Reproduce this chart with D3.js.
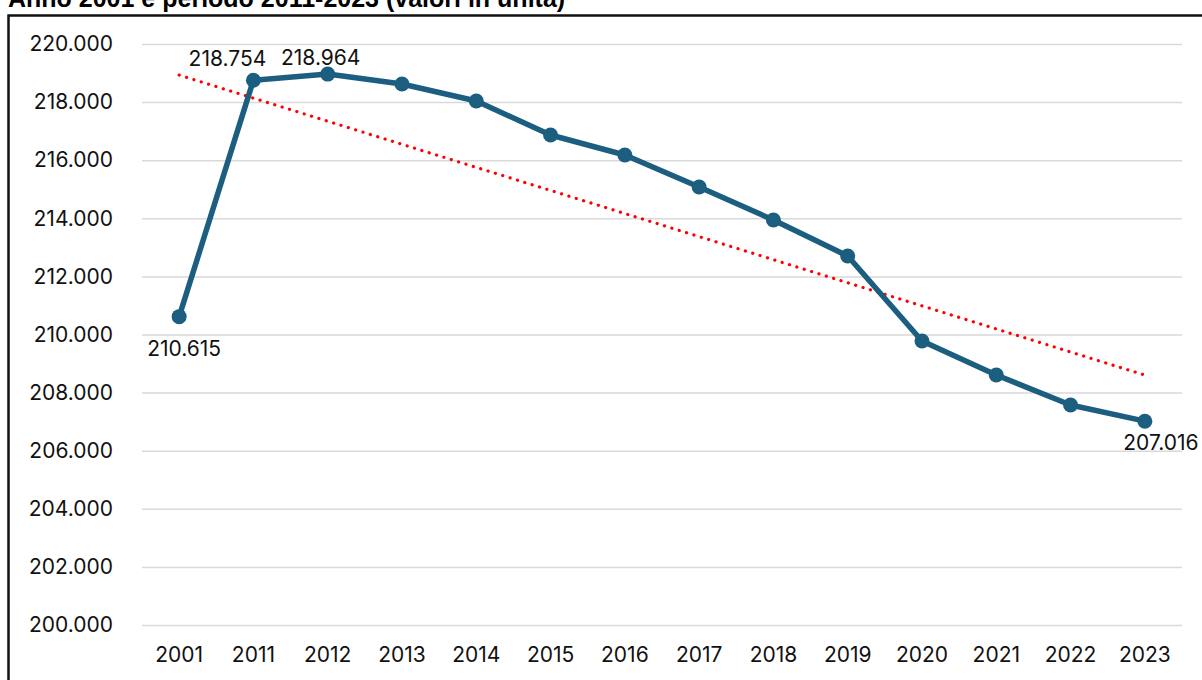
<!DOCTYPE html>
<html>
<head>
<meta charset="utf-8">
<script src="https://cdn.jsdelivr.net/npm/d3@7"></script>
<style>
  body { margin: 0; background: #fff; }
  svg { display: block; font-family: Inter, "Liberation Sans", sans-serif; }
</style>
</head>
<body>
<svg id="chart"></svg>
<script>
const years = ['2001', '2011', '2012', '2013', '2014', '2015', '2016', '2017', '2018', '2019', '2020', '2021', '2022', '2023'];
const population = [210615, 218754, 218964, 218623, 218038, 216867, 216179, 215077, 213941, 212702, 209776, 208606, 207573, 207016];
const yTicks = [200000, 202000, 204000, 206000, 208000, 210000, 212000, 214000, 216000, 218000, 220000];
const labelled = ['2001', '2011', '2012', '2023'];
const title = 'Anno 2001 e periodo 2011-2023 (valori in unità)';

const W = 1202, H = 680;
const fontSize = 21;
const svg = d3.select('#chart').attr('width', W).attr('height', H);

// frame and title (cut off at the top, like the reference)
svg.append('text')
  .attr('x', 8).attr('y', 7)
  .attr('font-family', '"Liberation Sans", Arial, sans-serif')
  .attr('font-weight', 'bold').attr('font-size', 25)
  .attr('fill', '#000')
  .text(title);

svg.append('path')
  .attr('d', `M8.5,${H} V15.5 H${W}`)
  .attr('fill', 'none').attr('stroke', '#111').attr('stroke-width', 2.5);

const plotLeft = 142, plotRight = 1182, plotTop = 44, plotBottom = 625;

const x = d3.scaleBand().domain(years).range([plotLeft, plotRight]);
const y = d3.scaleLinear().domain([200000, 220000]).range([plotBottom, plotTop]);
const cx = d => x(d) + x.bandwidth() / 2;

const fmt = v => d3.format(',')(v).replace(/,/g, '.');

// y axis with gridlines
svg.append('g')
  .attr('transform', `translate(${plotLeft},0)`)
  .call(d3.axisLeft(y).tickValues(yTicks).tickSize(-(plotRight - plotLeft)).tickFormat(fmt))
  .call(g => g.select('.domain').remove())
  .call(g => g.selectAll('.tick line').attr('stroke', '#d9d9d9').attr('stroke-width', 1.5))
  .call(g => g.selectAll('.tick text')
    .attr('x', -29).attr('font-size', fontSize).attr('font-family', 'Inter, sans-serif').attr('fill', '#111'));

// x axis labels
svg.append('g')
  .attr('transform', `translate(0,${plotBottom})`)
  .call(d3.axisBottom(x).tickSize(0).tickPadding(22))
  .call(g => g.select('.domain').remove())
  .call(g => g.selectAll('.tick text')
    .attr('font-size', fontSize).attr('font-family', 'Inter, sans-serif').attr('fill', '#111'));

// linear trend line (least squares over category index)
const n = population.length;
const idx = d3.range(n);
const mx = d3.mean(idx), my = d3.mean(population);
const slope = d3.sum(idx, i => (i - mx) * (population[i] - my)) / d3.sum(idx, i => (i - mx) ** 2);
const trend = i => my + slope * (i - mx);

svg.append('line')
  .attr('x1', cx(years[0])).attr('y1', y(trend(0)))
  .attr('x2', cx(years[n - 1])).attr('y2', y(trend(n - 1)))
  .attr('stroke', '#ff0000').attr('stroke-width', 3.2)
  .attr('stroke-linecap', 'round').attr('stroke-dasharray', '0.1 7.6');

// data series
const data = years.map((yr, i) => ({ year: yr, value: population[i] }));

svg.append('path')
  .datum(data)
  .attr('fill', 'none')
  .attr('stroke', '#1b5e80')
  .attr('stroke-width', 5.5)
  .attr('stroke-linejoin', 'round')
  .attr('d', d3.line().x(d => cx(d.year)).y(d => y(d.value)));

svg.append('g').selectAll('circle')
  .data(data).join('circle')
  .attr('cx', d => cx(d.year)).attr('cy', d => y(d.value))
  .attr('r', 7.5).attr('fill', '#1b5e80');

// data labels
const labelOffset = { '2001': [5, 39], '2011': [-26, -14], '2012': [-7, -9], '2023': [16, 29] };
svg.append('g').selectAll('text')
  .data(data.filter(d => labelled.includes(d.year))).join('text')
  .attr('x', d => cx(d.year) + labelOffset[d.year][0])
  .attr('y', d => y(d.value) + labelOffset[d.year][1])
  .attr('text-anchor', 'middle')
  .attr('font-size', fontSize).attr('font-family', 'Inter, sans-serif').attr('fill', '#111')
  .text(d => fmt(d.value));
</script>
</body>
</html>
